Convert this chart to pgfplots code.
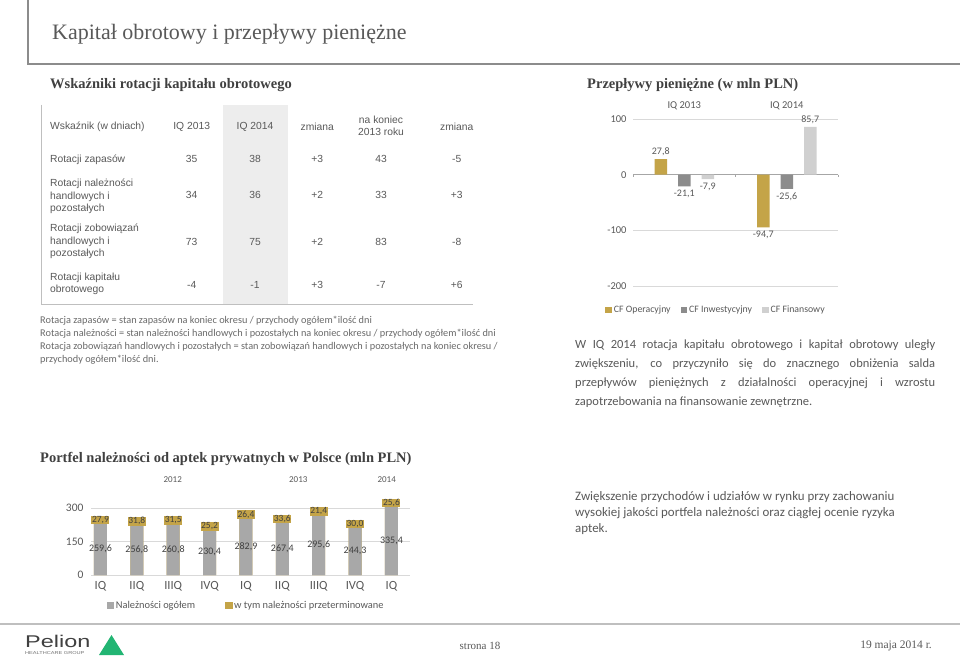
\documentclass[border=0pt]{standalone}
\usepackage{fontspec}
\setmainfont{Carlito}
\newfontfamily\serif{Liberation Serif}
\newfontfamily\arial{Liberation Sans}
\usepackage{graphicx}
\usepackage{pgfplots}
\pgfplotsset{compat=1.18}
\usepackage{pgfplotstable}

\definecolor{txt}{HTML}{595959}
\definecolor{note}{HTML}{6A6A6A}
\definecolor{head}{HTML}{404040}
\definecolor{gold}{HTML}{C4A448}
\definecolor{dgray}{HTML}{8C8C8C}
\definecolor{lgray}{HTML}{D0D0D0}
\definecolor{bgray}{HTML}{A8A8A8}
\definecolor{colshade}{HTML}{EDEDED}
\definecolor{rule}{HTML}{8C8C8C}
\definecolor{tline}{HTML}{BFBFBF}
\definecolor{gridc}{HTML}{D9D9D9}
\definecolor{zeroc}{HTML}{A6A6A6}
\definecolor{pgreen}{HTML}{22B573}
\definecolor{lbl}{HTML}{404040}

\newcommand{\fs}[2]{\fontsize{#1}{#2}\selectfont}

% Portfel naleznosci: total, overdue, rest (=total-overdue), label positions
\pgfplotstableread{
x total overdue gray gmid omid
0 259.6 27.9 231.7 115.85 245.65
1 256.8 31.8 225.0 112.50 240.90
2 260.8 31.5 229.3 114.65 245.05
3 230.4 25.2 205.2 102.60 217.80
4 282.9 26.4 256.5 128.25 269.70
5 267.4 33.6 233.8 116.90 250.60
6 295.6 21.4 274.2 137.10 284.90
7 244.3 30.0 214.3 107.15 229.30
8 335.4 25.6 309.8 154.90 322.60
}\recv

\begin{document}
\begin{tikzpicture}[x=1pt,y=1pt]
\path[use as bounding box, fill=white] (0,0) rectangle (960,657);

% ---- header frame
\draw[rule, line width=1.5pt] (28,657) -- (28,593) -- (960,593);
\node[anchor=base west, inner sep=0, text=txt] at (52,617) {\serif\fs{22}{26}Kapitał obrotowy i przepływy pieniężne};

% ---- left section heading
\node[anchor=base west, inner sep=0, text=head] at (50,568) {\serif\bfseries\fs{14.5}{16}Wskaźniki rotacji kapitału obrotowego};

% ---- table
\fill[colshade] (222.7,552) rectangle (287.7,353);
\draw[tline, line width=1pt] (41.7,552) -- (41.7,353) -- (473,353);
\begin{scope}[every node/.style={text=txt, font=\arial\fs{10.3}{12.3}, inner sep=0}]
\node[anchor=west] at (50,530.3) {Wskaźnik (w dniach)};
\node at (191.7,530.3) {IQ 2013};
\node at (255,530.3) {IQ 2014};
\node at (317.3,530.3) {zmiana};
\node[align=center] at (381,531) {na koniec\\2013 roku};
\node at (456.7,530.3) {zmiana};
\node[anchor=west] at (50,497.7) {Rotacji zapasów};
\node[anchor=west, align=left] at (50,460.6) {Rotacji należności\\handlowych i\\pozostałych};
\node[anchor=west, align=left] at (50,415.5) {Rotacji zobowiązań\\handlowych i\\pozostałych};
\node[anchor=west, align=left] at (50,373) {Rotacji kapitału\\obrotowego};
\foreach \yy/\va/\vb/\vc/\vd/\ve in {497.7/35/38/+3/43/-5, 462/34/36/+2/33/+3, 415.3/73/75/+2/83/-8, 372/-4/-1/+3/-7/+6}{
  \node at (191.7,\yy) {\va};
  \node at (255,\yy) {\vb};
  \node at (317.3,\yy) {\vc};
  \node at (381,\yy) {\vd};
  \node at (456.7,\yy) {\ve};
}
\end{scope}

% ---- notes
\begin{scope}[every node/.style={text=note, font=\fs{10.3}{11}, inner sep=0, anchor=west}]
\node at (40,336) {Rotacja zapasów = stan zapasów na koniec okresu / przychody ogółem*ilość dni};
\node at (40,323) {Rotacja należności = stan należności handlowych i pozostałych na koniec okresu / przychody ogółem*ilość dni};
\node at (40,310) {Rotacja zobowiązań handlowych i pozostałych = stan zobowiązań handlowych i pozostałych na koniec okresu /};
\node at (40,297) {przychody ogółem*ilość dni.};
\end{scope}

% ---- cash flow heading
\node[anchor=base west, inner sep=0, text=head] at (587,568) {\serif\bfseries\fs{14.5}{16}Przepływy pieniężne (w mln PLN)};

% ---- cash flow chart
\begin{axis}[
  at={(633pt,371pt)}, anchor=south west,
  scale only axis, width=205pt, height=167pt,
  xmin=-0.5, xmax=1.5, ymin=-200, ymax=100,
  xtick={0,1}, xticklabels={IQ 2013,IQ 2014}, xticklabel pos=upper,
  ytick={-200,-100,0,100},
  axis line style={draw=none}, major tick style={draw=none},
  ymajorgrids, grid style={draw=gridc, line width=0.7pt},
  ybar=11pt, bar width=12.5pt,
  legend image code/.code={\fill[#1] (0pt,-3pt) rectangle (6.5pt,3.5pt);},
  /pgf/number format/assume math mode=true,
  tick label style={font=\fs{10.5}{12}, text=txt},
  xticklabel style={yshift=1pt},
  yticklabel style={xshift=-3pt},
  nodes near coords={\pgfmathprintnumber[fixed,fixed zerofill,precision=1,use comma]{\pgfplotspointmeta}},
  nodes near coords align={vertical},
  every node near coord/.append style={font=\fs{10}{12}, text=txt},
  legend columns=3,
  legend style={at={(axis description cs:-0.15,-0.144)}, anchor=west, draw=none, fill=none,
     font=\fs{9.8}{11}, text=txt, /tikz/every even column/.append style={column sep=8pt}},
  clip=false,
]
\draw[zeroc, line width=0.8pt] (axis cs:-0.5,0) -- (axis cs:1.5,0);
\pgfplotsinvokeforeach{-0.5,0.5,1.5}{\draw[zeroc, line width=0.6pt] (axis cs:#1,0) -- ([yshift=-2.5pt]axis cs:#1,0);}
\addplot[fill=gold, draw=none] coordinates {(0,27.8) (1,-94.7)};
\addlegendentry{CF Operacyjny}
\addplot[fill=dgray, draw=none] coordinates {(0,-21.1) (1,-25.6)};
\addlegendentry{CF Inwestycyjny}
\addplot[fill=lgray, draw=none] coordinates {(0,-7.9) (1,85.7)};
\addlegendentry{CF Finansowy}
\end{axis}

% ---- paragraph 1
\begin{scope}[every node/.style={text=txt, font=\fs{12.5}{14}, inner sep=0, anchor=west}]
\node at (575,312) {\makebox[360pt][s]{W IQ 2014 rotacja kapitału obrotowego i kapitał obrotowy uległy}};
\node at (575,293) {\makebox[360pt][s]{zwiększeniu, co przyczyniło się do znacznego obniżenia salda}};
\node at (575,274) {\makebox[360pt][s]{przepływów pieniężnych z działalności operacyjnej i wzrostu}};
\node at (575,255) {zapotrzebowania na finansowanie zewnętrzne.};
\end{scope}

% ---- bottom heading
\node[anchor=base west, inner sep=0, text=head] at (40,194.3) {\serif\bfseries\fs{14.5}{16}Portfel należności od aptek prywatnych w Polsce (mln PLN)};
\begin{scope}[every node/.style={text=txt, font=\fs{9}{10}, inner sep=0}]
\node at (172.7,177.7) {2012};
\node at (298.3,177.7) {2013};
\node at (386.7,177.7) {2014};
\end{scope}

% ---- receivables chart
\begin{axis}[
  at={(91pt,82pt)}, anchor=south west,
  scale only axis, width=319pt, height=67pt,
  xmin=-0.26, xmax=8.51, ymin=0, ymax=300,
  ytick={0,150,300},
  xtick={0,...,8}, xticklabels={IQ,IIQ,IIIQ,IVQ,IQ,IIQ,IIIQ,IVQ,IQ},
  axis line style={draw=none}, major tick style={draw=none},
  ymajorgrids, grid style={draw=gridc, line width=0.7pt},
  clip=false,
  /pgf/number format/assume math mode=true,
  yticklabel style={font=\fs{11.5}{13}, text=txt, xshift=-4pt},
  xticklabel style={font=\fs{12.5}{14}, text=txt, yshift=-3pt},
  legend columns=2,
  legend style={at={(axis description cs:0.04,-0.458)}, anchor=west, draw=none, fill=none,
     font=\fs{10.4}{12}, text=txt, /tikz/every even column/.append style={column sep=28pt}},
]
\addplot[ybar, bar width=13pt, bar shift=0pt, fill=gold, draw=none, forget plot] table[x=x, y=total] {\recv};
\addplot[ybar, bar width=13pt, bar shift=0pt, fill=bgray, draw=none, forget plot] table[x=x, y=gray] {\recv};
\addplot[draw=none, mark=none, forget plot, point meta=explicit,
   nodes near coords={\pgfmathprintnumber[fixed,fixed zerofill,precision=1,use comma]{\pgfplotspointmeta}},
   every node near coord/.append style={anchor=center, font=\fs{10}{11}, text=lbl}]
   table[x=x, y=gmid, meta=total] {\recv};
\addplot[draw=none, mark=none, forget plot, point meta=explicit,
   nodes near coords={\pgfmathprintnumber[fixed,fixed zerofill,precision=1,use comma]{\pgfplotspointmeta}},
   every node near coord/.append style={anchor=center, font=\fs{9.5}{10}, text=lbl, fill=gold, inner sep=0.6pt}]
   table[x=x, y=omid, meta=overdue] {\recv};
\addlegendimage{legend image code/.code={\fill[bgray] (0pt,-3pt) rectangle (6.5pt,3.5pt);}}
\addlegendentry{Należności ogółem}
\addlegendimage{legend image code/.code={\fill[gold] (0pt,-3pt) rectangle (6.5pt,3.5pt);}}
\addlegendentry{w tym należności przeterminowane}
\end{axis}

% ---- paragraph 2
\begin{scope}[every node/.style={text=txt, font=\fs{12.9}{14}, inner sep=0, anchor=west}]
\node at (575,160) {Zwiększenie przychodów i udziałów w rynku przy zachowaniu};
\node at (575,144) {wysokiej jakości portfela należności oraz ciągłej ocenie ryzyka};
\node at (575,128) {aptek.};
\end{scope}

% ---- footer
\draw[tline, line width=1.2pt] (0,33) -- (960,33);
\node[anchor=west, inner sep=0, text=black!75] at (25,16) {\arial\fs{17}{18}\scalebox{1.38}[1]{Pelion}};
\node[anchor=west, inner sep=0, text=black!55] at (25,3.5) {\arial\fs{4.3}{5}\scalebox{1.3}[1]{HEALTHCARE GROUP}};
\fill[pgreen] (99,2) -- (124,2) -- (111.5,22) -- cycle;
\node[inner sep=0, text=txt] at (480,11) {\serif\fs{11}{12}strona 18};
\node[anchor=east, inner sep=0, text=txt] at (932,11) {\serif\fs{11.5}{12}19 maja 2014 r.};
\end{tikzpicture}
\end{document}
